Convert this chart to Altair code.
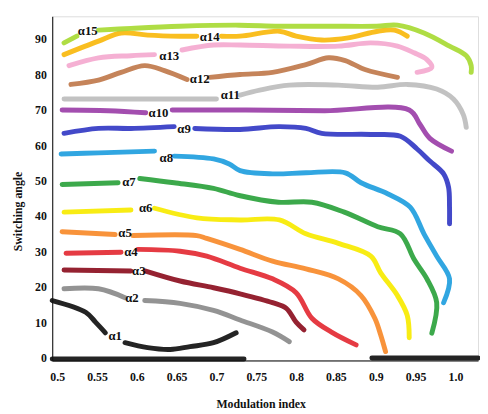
import altair as alt
import pandas as pd

# ---- data (None marks the gap where a curve's label sits) ----
a15_x = [0.5086, 0.5247, None, 0.5519, 0.5926, 0.6543, 0.7284, 0.7778, 0.8395, 0.9012, 0.9272, 0.9605, 0.9926, 1.0136, 1.0198, 1.0198]
a15_y = [88.8, 90.7, None, 92.4, 92.9, 93.5, 93.8, 93.5, 93.5, 93.5, 93.8, 91.6, 87.9, 85.2, 82.4, 80.5]

a14_x = [0.5086, 0.5519, 0.5802, 0.6136, 0.6543, 0.6753, None, 0.7062, 0.7296, 0.7790, 0.8000, 0.8321, 0.8654, 0.9025, 0.9235, 0.9395]
a14_y = [85.5, 89.3, 91.6, 91.0, 90.7, 90.7, None, 90.7, 90.7, 92.1, 90.7, 89.6, 90.2, 92.1, 92.4, 90.7]

a13_x = [0.5148, 0.5519, 0.5926, 0.6222, None, 0.6568, 0.6963, 0.7296, 0.7914, 0.8531, 0.8938, 0.9272, 0.9481, 0.9642, 0.9704, 0.9519]
a13_y = [82.4, 84.6, 85.2, 85.5, None, 86.8, 88.2, 88.2, 87.9, 87.9, 88.8, 87.9, 86.0, 84.1, 81.9, 80.5]

a12_x = [0.5173, 0.5519, 0.5802, 0.6099, 0.6346, 0.6630, None, 0.6914, 0.7296, 0.7704, 0.8123, 0.8407, 0.8617, 0.8864, 0.9272]
a12_y = [77.1, 78.3, 80.5, 82.4, 81.0, 78.5, None, 79.1, 79.9, 80.5, 82.7, 84.6, 83.8, 81.3, 79.1]

a11_x = [0.5086, 0.6136, 0.7000, None, 0.7296, 0.7543, 0.7914, 0.8531, 0.9025, 0.9395, 0.9765, 0.9975, 1.0099, 1.0136]
a11_y = [73.0, 73.0, 73.0, None, 74.1, 75.5, 76.9, 76.9, 76.3, 77.1, 75.8, 73.0, 68.6, 65.0]

a10_x = [0.5062, 0.5642, 0.6111, None, 0.6444, 0.7370, 0.8358, 0.9420, 0.9556, 0.9679, 0.9951]
a10_y = [69.9, 69.7, 69.1, None, 69.9, 69.9, 69.7, 69.9, 65.8, 61.9, 58.3]

a9_x = [0.5086, 0.5519, 0.5926, 0.6469, None, 0.6728, 0.7296, 0.7778, 0.8123, 0.8321, 0.8938, 0.9309, 0.9519, 0.9679, 0.9852, 0.9914, 0.9926, 0.9926]
a9_y = [63.3, 64.7, 64.7, 65.2, None, 64.7, 64.4, 65.2, 64.7, 63.3, 63.0, 62.5, 58.9, 55.5, 51.9, 48.1, 42.5, 37.8]

a8_x = [0.5049, 0.5519, 0.6222, None, 0.6469, 0.6963, 0.7160, 0.7296, 0.7704, 0.8123, 0.8617, 0.8815, 0.9148, 0.9432, 0.9605, 0.9765, 0.9926, 0.9852]
a8_y = [57.5, 57.8, 58.3, None, 56.9, 56.1, 54.7, 52.8, 51.9, 52.2, 52.2, 49.4, 46.3, 42.5, 35.0, 28.7, 22.3, 15.6]

a7_x = [0.5062, 0.5765, None, 0.6037, 0.6469, 0.6963, 0.7284, 0.7778, 0.8198, 0.8605, 0.9025, 0.9309, 0.9481, 0.9642, 0.9765, 0.9704]
a7_y = [48.9, 49.4, None, 50.6, 49.4, 47.8, 45.8, 43.9, 43.9, 41.1, 37.0, 35.0, 27.8, 22.3, 15.6, 7.0]

a6_x = [0.5086, 0.5926, None, 0.6222, 0.6753, 0.7296, 0.7790, 0.8123, 0.8531, 0.8938, 0.9062, 0.9272, 0.9395, 0.9420]
a6_y = [41.1, 41.7, None, 42.2, 39.5, 38.9, 38.9, 35.0, 32.3, 28.7, 24.0, 17.6, 12.0, 5.7]

a5_x = [0.5062, 0.5728, None, 0.5951, 0.6753, 0.6877, 0.7296, 0.7704, 0.8123, 0.8531, 0.8815, 0.8988, 0.9062, 0.9123]
a5_y = [35.6, 34.8, None, 34.5, 34.5, 33.7, 30.6, 27.3, 25.1, 22.3, 17.6, 11.2, 6.5, 1.8]

a4_x = [0.5111, 0.5802, None, 0.6012, 0.6543, 0.6877, 0.7296, 0.7704, 0.8000, 0.8198, 0.8444, 0.8753]
a4_y = [29.5, 29.8, None, 30.6, 30.1, 28.7, 25.3, 22.3, 18.4, 11.2, 7.3, 3.7]

a3_x = [0.5086, 0.5926, None, 0.6111, 0.6543, 0.6963, 0.7296, 0.7704, 0.7877, 0.8000, 0.8099]
a3_y = [24.8, 24.5, None, 24.5, 21.7, 19.8, 18.1, 15.6, 14.0, 10.1, 7.9]

a2_x = [0.5086, 0.5519, 0.5852, None, 0.6099, 0.6543, 0.6963, 0.7296, 0.7704, 0.7914]
a2_y = [19.5, 19.5, 17.0, None, 16.2, 15.4, 13.4, 10.7, 7.3, 4.6]

a1_x = [0.4938, 0.5358, 0.5481, 0.5605, None, 0.5852, 0.6136, 0.6420, 0.6667, 0.6963, 0.7247]
a1_y = [16.2, 12.9, 10.1, 7.1, None, 4.3, 2.9, 2.4, 3.2, 4.3, 7.1]

zero_x = [0.4938, 0.7346, None, 0.8951, 1.0284]
zero_y = [-0.3, -0.3, None, 0.0, 0.0]

series_names = ["α0", "α1", "α2", "α3", "α4", "α5", "α6", "α7", "α8",
                "α9", "α10", "α11", "α12", "α13", "α14", "α15"]
series_colors = ["#111111", "#111111", "#8a8a8a", "#8c0f20", "#e32a33", "#f78a2a",
                 "#f7ea00", "#2ba23c", "#1f9ede", "#3339c4", "#9b3fa8", "#bdbdbd",
                 "#c07a4c", "#f4a9cf", "#f9b90d", "#a8da34"]
series_x = [zero_x, a1_x, a2_x, a3_x, a4_x, a5_x, a6_x, a7_x, a8_x,
            a9_x, a10_x, a11_x, a12_x, a13_x, a14_x, a15_x]
series_y = [zero_y, a1_y, a2_y, a3_y, a4_y, a5_y, a6_y, a7_y, a8_y,
            a9_y, a10_y, a11_y, a12_y, a13_y, a14_y, a15_y]

label_text = ["α1", "α2", "α3", "α4", "α5", "α6", "α7", "α8",
              "α9", "α10", "α11", "α12", "α13", "α14", "α15"]
label_x = [0.5728, 0.5938, 0.6025, 0.5926, 0.5852, 0.6111, 0.5901, 0.6370,
           0.6593, 0.6272, 0.7173, 0.6790, 0.6407, 0.6914, 0.5383]
label_y = [6.2, 16.8, 24.5, 29.8, 35.3, 42.2, 49.7, 56.4,
           64.4, 69.1, 74.1, 78.5, 85.2, 90.4, 92.1]

x_ticks = [0.5, 0.55, 0.6, 0.65, 0.7, 0.75, 0.8, 0.85, 0.9, 0.95, 1.0]
y_ticks = [0, 10, 20, 30, 40, 50, 60, 70, 80, 90]

# ---- build table ----
rows = []
for name, xs, ys in zip(series_names, series_x, series_y):
    seg = 0
    for i, (xv, yv) in enumerate(zip(xs, ys)):
        if xv is None:
            seg += 1
            continue
        rows.append({"x": xv, "y": yv, "series": name, "key": f"{name}-{seg}", "i": i})
df = pd.DataFrame(rows)
lab = pd.DataFrame({"x": label_x, "y": label_y, "t": label_text})

FONT = "Liberation Serif"

x_enc = alt.X("x:Q",
              scale=alt.Scale(domain=[0.4938, 1.0284], nice=False, zero=False),
              axis=alt.Axis(values=x_ticks, title="Modulation index",
                            labelExpr="datum.value == 1 ? '1.0' : format(datum.value, '.2~f')",
                            ticks=False, grid=False, domainColor="#000", labelPadding=11,
                            labelFont=FONT, labelFontSize=12, labelFontWeight="bold", labelColor="#111",
                            titleFont=FONT, titleFontSize=12, titleFontWeight="bold", titleColor="#111",
                            titleX=212, titleY=44, titleBaseline="middle", titleAlign="center"))
y_enc = alt.Y("y:Q",
              scale=alt.Scale(domain=[-0.7, 96.3], nice=False, zero=False),
              axis=alt.Axis(values=y_ticks, title="Switching angle",
                            ticks=False, grid=False, domainColor="#000", labelPadding=6,
                            labelFont=FONT, labelFontSize=12, labelFontWeight="bold", labelColor="#111",
                            titleFont=FONT, titleFontSize=12, titleFontWeight="bold", titleColor="#111",
                            titleX=-35, titleY=198, titleAngle=270, titleBaseline="middle",
                            titleAlign="center"))

lines = alt.Chart(df).mark_line(strokeWidth=5, strokeCap="round", strokeJoin="round",
                                interpolate="catmull-rom", opacity=0.92).encode(
    x=x_enc, y=y_enc,
    color=alt.Color("series:N", scale=alt.Scale(domain=series_names, range=series_colors), legend=None),
    detail="key:N",
    order="i:Q",
)

texts = alt.Chart(lab).mark_text(font=FONT, fontSize=13, fontWeight="bold", color="#111").encode(
    x=x_enc, y=y_enc, text="t:N"
)

chart = alt.layer(lines, texts).properties(
    width=433, height=350,
    autosize=alt.AutoSizeParams(type="none"),
    padding={"left": 45, "top": 5, "right": 2, "bottom": 51},
).configure_view(stroke="#000", strokeWidth=1).configure(background="white")

chart.save("out.html", embed_options={"renderer": "svg", "actions": False})
